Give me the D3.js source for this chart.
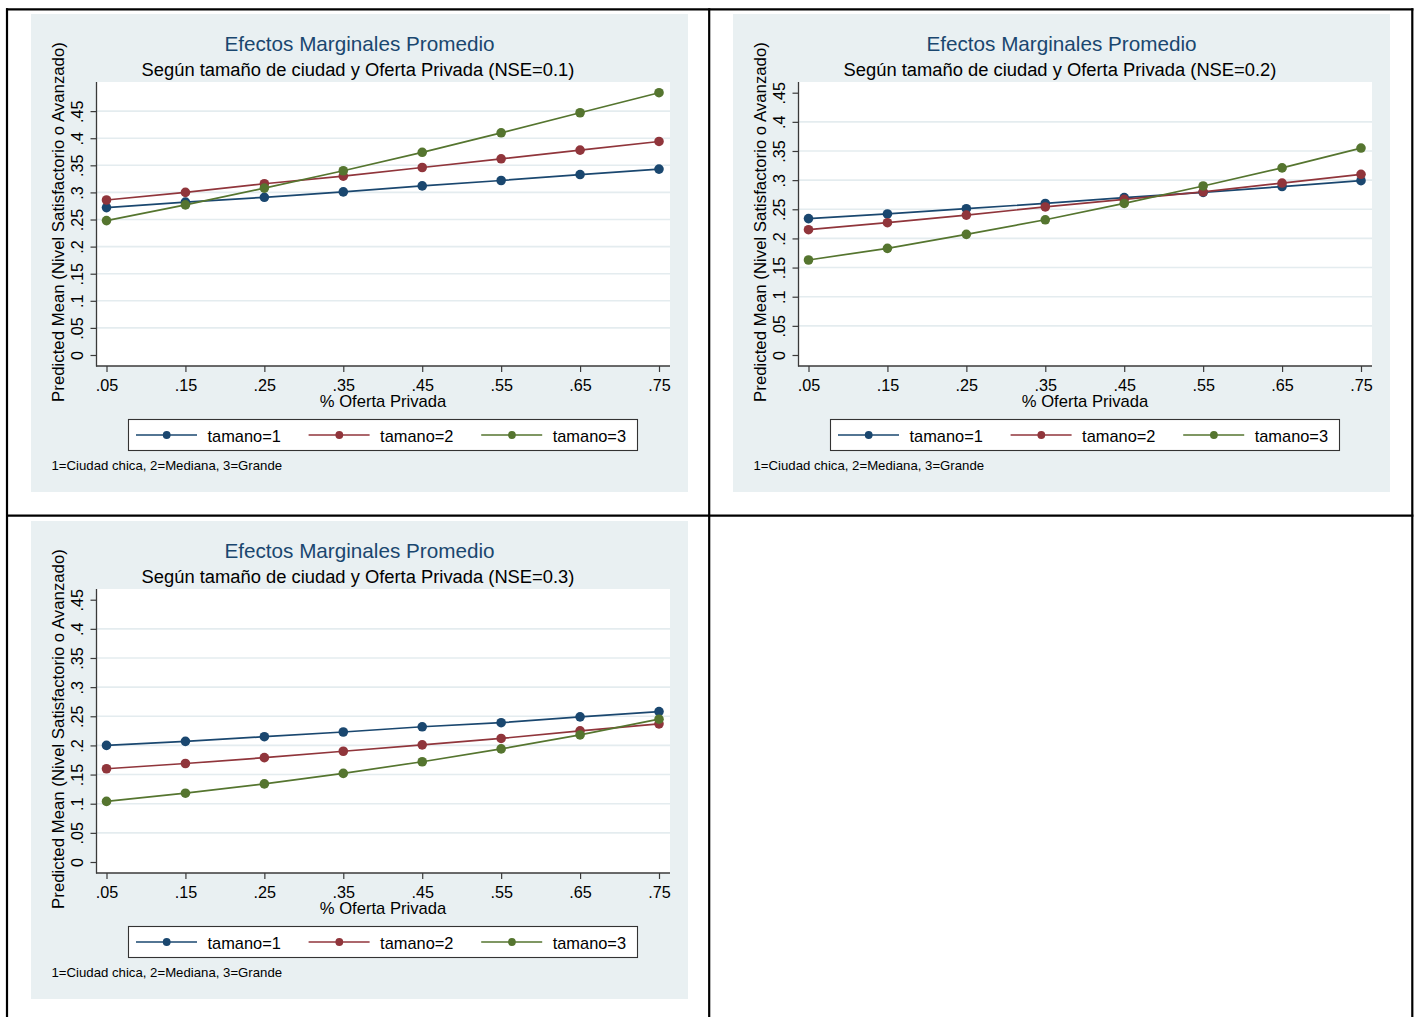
<!DOCTYPE html>
<html>
<head>
<meta charset="utf-8">
<script src="https://cdn.jsdelivr.net/npm/d3@7"></script>
<style>
  html, body { margin: 0; padding: 0; background: #ffffff; }
  svg { display: block; font-family: "Liberation Sans", Arial, sans-serif; }
</style>
</head>
<body>
<svg id="chart" width="1418" height="1017"></svg>
<script>
// ---------------- DATA ----------------
const xValues = [0.05, 0.15, 0.25, 0.35, 0.45, 0.55, 0.65, 0.75];
const xTickLabels = [".05", ".15", ".25", ".35", ".45", ".55", ".65", ".75"];
const yTickValues = [0, 0.05, 0.10, 0.15, 0.20, 0.25, 0.30, 0.35, 0.40, 0.45];
const yTickLabels = ["0", ".05", ".1", ".15", ".2", ".25", ".3", ".35", ".4", ".45"];
const seriesNames = ["tamano=1", "tamano=2", "tamano=3"];

const chartTitle = "Efectos Marginales Promedio";
const panelSubtitles = [
  "Según tamaño de ciudad y Oferta Privada (NSE=0.1)",
  "Según tamaño de ciudad y Oferta Privada (NSE=0.2)",
  "Según tamaño de ciudad y Oferta Privada (NSE=0.3)"
];
const xAxisTitle = "% Oferta Privada";
const yAxisTitle = "Predicted Mean (Nivel Satisfactorio o Avanzado)";
const noteText = "1=Ciudad chica, 2=Mediana, 3=Grande";

// NSE = 0.1
const nse01_tamano1 = [0.272, 0.282, 0.291, 0.301, 0.312, 0.322, 0.333, 0.343];
const nse01_tamano2 = [0.286, 0.300, 0.316, 0.330, 0.346, 0.362, 0.378, 0.394];
const nse01_tamano3 = [0.248, 0.277, 0.308, 0.340, 0.374, 0.410, 0.447, 0.484];
// NSE = 0.2
const nse02_tamano1 = [0.234, 0.242, 0.251, 0.260, 0.270, 0.279, 0.289, 0.299];
const nse02_tamano2 = [0.215, 0.227, 0.240, 0.254, 0.267, 0.280, 0.295, 0.310];
const nse02_tamano3 = [0.163, 0.183, 0.207, 0.232, 0.260, 0.290, 0.321, 0.355];
// NSE = 0.3
const nse03_tamano1 = [0.200, 0.207, 0.215, 0.223, 0.232, 0.239, 0.249, 0.258];
const nse03_tamano2 = [0.160, 0.169, 0.179, 0.190, 0.201, 0.212, 0.225, 0.237];
const nse03_tamano3 = [0.104, 0.118, 0.134, 0.152, 0.172, 0.194, 0.218, 0.245];

// ---------------- STYLE / LAYOUT ----------------
const seriesColors = ["#1a476f", "#90353b", "#55752f"];
const bgColor = "#e9f0f2";
const gridColor = "#e4ecef";
const titleColor = "#1a476f";
const axisColor = "#3a3a3a";

const panelOrigins = [[31, 14], [733, 14], [31, 521]];
const panelSeries = [
  [nse01_tamano1, nse01_tamano2, nse01_tamano3],
  [nse02_tamano1, nse02_tamano2, nse02_tamano3],
  [nse03_tamano1, nse03_tamano2, nse03_tamano3]
];

const svg = d3.select("#chart");

// ---------------- TABLE BORDERS ----------------
const borders = svg.append("g").attr("stroke", "#000").attr("stroke-width", 2.2);
borders.append("line").attr("x1", 6).attr("x2", 1413.4).attr("y1", 9.3).attr("y2", 9.3);
borders.append("line").attr("x1", 6).attr("x2", 1413.4).attr("y1", 515.7).attr("y2", 515.7);
borders.append("line").attr("x1", 7).attr("x2", 7).attr("y1", 8.2).attr("y2", 1017);
borders.append("line").attr("x1", 709.2).attr("x2", 709.2).attr("y1", 8.2).attr("y2", 1017);
borders.append("line").attr("x1", 1412.3).attr("x2", 1412.3).attr("y1", 8.2).attr("y2", 1017);

// ---------------- PANELS ----------------
function drawPanel(idx) {
  const [bx, by] = panelOrigins[idx];
  const series = panelSeries[idx];
  const g = svg.append("g").attr("transform", `translate(${bx},${by})`);

  const W = 657, H = 478;
  const pL = 65, pR = 639, pT = 68, pB = 352;

  g.append("rect").attr("width", W).attr("height", H).attr("fill", bgColor);
  g.append("rect").attr("x", pL).attr("y", pT).attr("width", pR - pL).attr("height", pB - pT).attr("fill", "#ffffff");

  const dataMax = d3.max(series.flat());
  const yMax = Math.max(d3.max(yTickValues), dataMax);
  const x = d3.scaleLinear().domain([d3.min(xValues), d3.max(xValues)]).range([pL + 10.5, pR - 11]);
  const y = d3.scaleLinear().domain([0, yMax]).range([pB - 11, pT + 10.7]);

  // gridlines (not at axis extremes)
  g.append("g").selectAll("line")
    .data(yTickValues.filter(t => t > y.domain()[0] + 1e-9 && t < y.domain()[1] - 1e-9))
    .join("line")
    .attr("x1", pL + 1).attr("x2", pR)
    .attr("y1", d => y(d)).attr("y2", d => y(d))
    .attr("stroke", gridColor).attr("stroke-width", 1.6);

  // titles
  g.append("text").attr("x", W / 2).attr("y", 37).attr("text-anchor", "middle")
    .attr("font-size", 20.7).attr("fill", titleColor).text(chartTitle);
  g.append("text").attr("x", W / 2 - 1.5).attr("y", 62.3).attr("text-anchor", "middle")
    .attr("font-size", 18.35).attr("fill", "#000").text(panelSubtitles[idx]);

  // y axis
  const yAxis = d3.axisLeft(y).tickValues(yTickValues)
    .tickFormat((d, i) => yTickLabels[i]).tickSize(6).tickSizeOuter(0);
  const yg = g.append("g").attr("transform", `translate(${pL + 0.5},0)`).call(yAxis);
  yg.select(".domain").remove();
  yg.selectAll(".tick line").attr("stroke", axisColor).attr("stroke-width", 1.2);
  yg.selectAll(".tick text")
    .attr("transform", "rotate(-90)")
    .attr("x", 0).attr("y", -14).attr("dy", 0)
    .attr("text-anchor", "middle")
    .attr("font-size", 16.2).attr("fill", "#000")
    .attr("font-family", "'Liberation Sans', Arial, sans-serif");
  g.append("line").attr("x1", pL + 0.5).attr("x2", pL + 0.5).attr("y1", pT).attr("y2", pB + 0.5)
    .attr("stroke", axisColor).attr("stroke-width", 1.3);

  // x axis
  const xAxis = d3.axisBottom(x).tickValues(xValues)
    .tickFormat((d, i) => xTickLabels[i]).tickSize(6).tickSizeOuter(0);
  const xg = g.append("g").attr("transform", `translate(0,${pB})`).call(xAxis);
  xg.select(".domain").remove();
  xg.selectAll(".tick line").attr("stroke", axisColor).attr("stroke-width", 1.2);
  xg.selectAll(".tick text")
    .attr("y", 24.7).attr("dy", 0)
    .attr("font-size", 16.2).attr("fill", "#000")
    .attr("font-family", "'Liberation Sans', Arial, sans-serif");
  g.append("line").attr("x1", pL).attr("x2", pR).attr("y1", pB).attr("y2", pB)
    .attr("stroke", axisColor).attr("stroke-width", 1.3);

  // axis titles
  g.append("text").attr("x", (pL + pR) / 2).attr("y", 392.6).attr("text-anchor", "middle")
    .attr("font-size", 16.6).attr("fill", "#000").text(xAxisTitle);
  g.append("text").attr("transform", `translate(33.2,208) rotate(-90)`).attr("text-anchor", "middle")
    .attr("font-size", 16.8).attr("fill", "#000").text(yAxisTitle);

  // series
  const line = d3.line().x((d, i) => x(xValues[i])).y(d => y(d));
  series.forEach((vals, s) => {
    g.append("path").datum(vals).attr("d", line)
      .attr("fill", "none").attr("stroke", seriesColors[s]).attr("stroke-width", 1.7);
  });
  series.forEach((vals, s) => {
    g.append("g").selectAll("circle").data(vals).join("circle")
      .attr("cx", (d, i) => x(xValues[i])).attr("cy", d => y(d))
      .attr("r", 4.8).attr("fill", seriesColors[s]);
  });

  // legend
  const lx = 97, ly = 405, lw = 509, lh = 31;
  const lg = g.append("g");
  lg.append("rect").attr("x", lx + 0.5).attr("y", ly + 0.5).attr("width", lw).attr("height", lh)
    .attr("fill", "#fff").attr("stroke", "#333").attr("stroke-width", 1.1);
  seriesNames.forEach((name, s) => {
    const ox = lx + s * 172.6;
    lg.append("line").attr("x1", ox + 8).attr("x2", ox + 69).attr("y1", ly + 16).attr("y2", ly + 16)
      .attr("stroke", seriesColors[s]).attr("stroke-width", 1.7);
    lg.append("circle").attr("cx", ox + 38.7).attr("cy", ly + 16).attr("r", 3.9).attr("fill", seriesColors[s]);
    lg.append("text").attr("x", ox + 79.5).attr("y", ly + 23.3)
      .attr("font-size", 16.4).attr("fill", "#000").text(name);
  });

  // note
  g.append("text").attr("x", 20.5).attr("y", 456).attr("font-size", 13.2).attr("fill", "#000").text(noteText);
}

[0, 1, 2].forEach(drawPanel);
</script>
</body>
</html>
